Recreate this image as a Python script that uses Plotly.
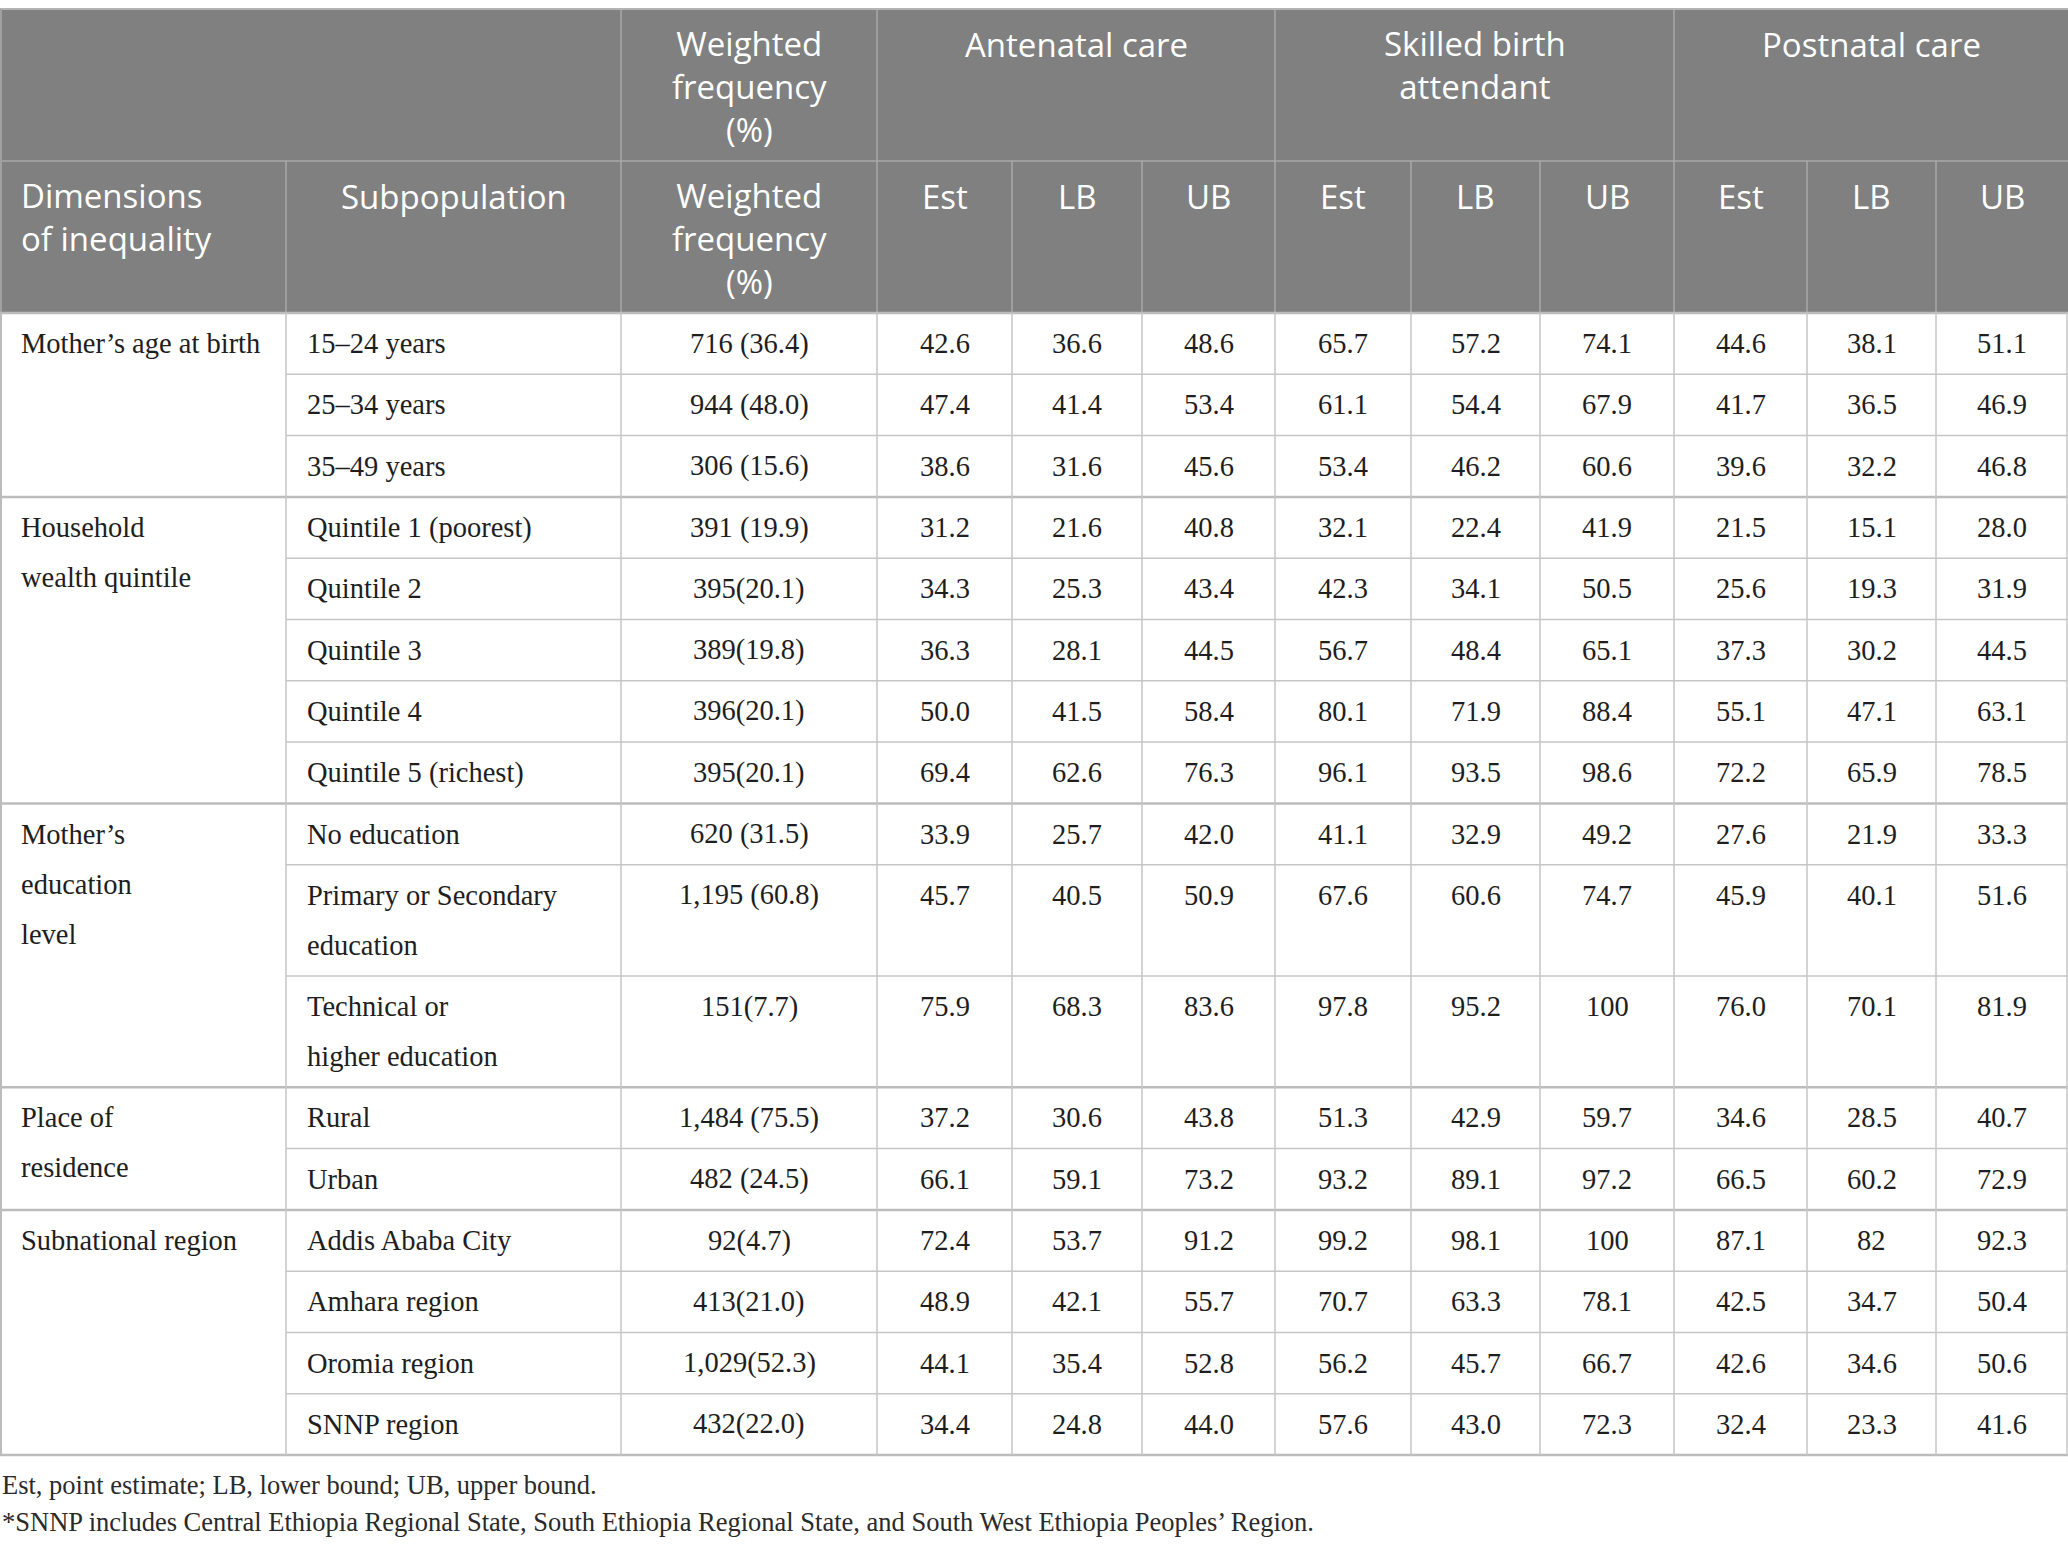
"""
Coverage of maternal health services by dimension of inequality (table)
"""
import plotly.graph_objects as go

# ---- data -------------------------------------------------------------
dimension_labels = [
    ["Mother’s age at birth"],
    ["Household", "wealth quintile"],
    ["Mother’s", "education", "level"],
    ["Place of", "residence"],
    ["Subnational region"],
]
group_sizes = [3, 5, 3, 2, 4]

subpopulations = [
    ["15–24 years"], ["25–34 years"], ["35–49 years"],
    ["Quintile 1 (poorest)"], ["Quintile 2"], ["Quintile 3"], ["Quintile 4"], ["Quintile 5 (richest)"],
    ["No education"], ["Primary or Secondary", "education"], ["Technical or", "higher education"],
    ["Rural"], ["Urban"],
    ["Addis Ababa City"], ["Amhara region"], ["Oromia region"], ["SNNP region"],
]
weighted_freq = [
    "716 (36.4)", "944 (48.0)", "306 (15.6)",
    "391 (19.9)", "395(20.1)", "389(19.8)", "396(20.1)", "395(20.1)",
    "620 (31.5)", "1,195 (60.8)", "151(7.7)",
    "1,484 (75.5)", "482 (24.5)",
    "92(4.7)", "413(21.0)", "1,029(52.3)", "432(22.0)",
]
anc_est = ["42.6", "47.4", "38.6", "31.2", "34.3", "36.3", "50.0", "69.4", "33.9", "45.7", "75.9",
           "37.2", "66.1", "72.4", "48.9", "44.1", "34.4"]
anc_lb = ["36.6", "41.4", "31.6", "21.6", "25.3", "28.1", "41.5", "62.6", "25.7", "40.5", "68.3",
          "30.6", "59.1", "53.7", "42.1", "35.4", "24.8"]
anc_ub = ["48.6", "53.4", "45.6", "40.8", "43.4", "44.5", "58.4", "76.3", "42.0", "50.9", "83.6",
          "43.8", "73.2", "91.2", "55.7", "52.8", "44.0"]
sba_est = ["65.7", "61.1", "53.4", "32.1", "42.3", "56.7", "80.1", "96.1", "41.1", "67.6", "97.8",
           "51.3", "93.2", "99.2", "70.7", "56.2", "57.6"]
sba_lb = ["57.2", "54.4", "46.2", "22.4", "34.1", "48.4", "71.9", "93.5", "32.9", "60.6", "95.2",
          "42.9", "89.1", "98.1", "63.3", "45.7", "43.0"]
sba_ub = ["74.1", "67.9", "60.6", "41.9", "50.5", "65.1", "88.4", "98.6", "49.2", "74.7", "100",
          "59.7", "97.2", "100", "78.1", "66.7", "72.3"]
pnc_est = ["44.6", "41.7", "39.6", "21.5", "25.6", "37.3", "55.1", "72.2", "27.6", "45.9", "76.0",
           "34.6", "66.5", "87.1", "42.5", "42.6", "32.4"]
pnc_lb = ["38.1", "36.5", "32.2", "15.1", "19.3", "30.2", "47.1", "65.9", "21.9", "40.1", "70.1",
          "28.5", "60.2", "82", "34.7", "34.6", "23.3"]
pnc_ub = ["51.1", "46.9", "46.8", "28.0", "31.9", "44.5", "63.1", "78.5", "33.3", "51.6", "81.9",
          "40.7", "72.9", "92.3", "50.4", "50.6", "41.6"]

top_headers = [["Weighted", "frequency", "(%)"], ["Antenatal care"],
               ["Skilled birth", "attendant"], ["Postnatal care"]]
sub_headers = [["Dimensions", "of inequality"], ["Subpopulation"],
               ["Weighted", "frequency", "(%)"]] + [["Est"], ["LB"], ["UB"]] * 3
footnotes = [
    "Est, point estimate; LB, lower bound; UB, upper bound.",
    "*SNNP includes Central Ethiopia Regional State, South Ethiopia Regional State, "
    "and South West Ethiopia Peoples’ Region.",
]

# ---- layout constants (pixels) ------------------------------------------
W, H = 2068, 1551
col_edges = [0, 286, 621, 877, 1012, 1142, 1275, 1411, 1540, 1674, 1807, 1936, 2068]
top_spans = [(2, 3), (3, 6), (6, 9), (9, 12)]
table_top, head1_bot, head2_bot = 9, 161, 313
row_h, line_gap = 61.3, 50
pad = 19

HEAD_BG = "#808080"
HEAD_LINE = "#a9a9a9"
BODY_LINE = "#c6c6c6"
TEXT = "#1e1e1e"
SANS = "Open Sans"
SERIF = "Liberation Serif"
HEAD_SIZE = 33
BODY_SIZE = 28.5

fig = go.Figure()
shapes = []
annotations = []


def hline(x0, x1, y, color, width):
    shapes.append(dict(type="line", xref="x", yref="y", x0=x0, x1=x1, y0=y, y1=y,
                       line=dict(color=color, width=width), layer="above"))


def vline(x, y0, y1, color, width):
    shapes.append(dict(type="line", xref="x", yref="y", x0=x, x1=x, y0=y0, y1=y1,
                       line=dict(color=color, width=width), layer="above"))


def text(x, y, s, font, size, color, align="center"):
    annotations.append(dict(x=x, y=y, xref="x", yref="y", text=s, showarrow=False,
                            xanchor=align, yanchor="middle", align=align,
                            font=dict(family=font, size=size, color=color)))


def head_text(x, first_y, lines, align="center"):
    # block of header lines, plotly spaces them at 1.3 em
    pitch = 1.3 * HEAD_SIZE
    cy = first_y + pitch * (len(lines) - 1) / 2
    text(x, cy, "<br>".join(lines), SANS, HEAD_SIZE, "white", align)


# header background
shapes.append(dict(type="rect", xref="x", yref="y", x0=0, x1=W, y0=table_top, y1=head2_bot,
                   fillcolor=HEAD_BG, line=dict(width=0), layer="below"))

# header row 1
for (c0, c1), lines in zip(top_spans, top_headers):
    cx = (col_edges[c0] + col_edges[c1]) / 2
    head_text(cx, table_top + 35, lines)
    vline(col_edges[c0], table_top, head1_bot, HEAD_LINE, 1.5)

# header row 2
for i, lines in enumerate(sub_headers):
    x0, x1 = col_edges[i], col_edges[i + 1]
    if i == 0:
        head_text(x0 + pad, head1_bot + 35, lines, "left")
    else:
        head_text((x0 + x1) / 2, head1_bot + 35, lines)
        vline(x0, head1_bot, head2_bot, HEAD_LINE, 1.5)

hline(0, W, table_top, "#b4b4b4", 2)
hline(0, W, head1_bot, HEAD_LINE, 1.5)
vline(1, table_top, head2_bot, "#a0a0a0", 2)

# body rows
value_cols = [weighted_freq, anc_est, anc_lb, anc_ub, sba_est, sba_lb, sba_ub,
              pnc_est, pnc_lb, pnc_ub]
row_tops = []
y = head2_bot
for lines in subpopulations:
    row_tops.append(y)
    y += row_h + line_gap * (len(lines) - 1)
body_bot = y

r = 0
group_starts = []
for size in group_sizes:
    group_starts.append(r)
    r += size

for r, lines in enumerate(subpopulations):
    top = row_tops[r]
    h = row_h + line_gap * (len(lines) - 1)
    first = top + h / 2 - line_gap * (len(lines) - 1) / 2
    for k, s in enumerate(lines):
        text(col_edges[1] + pad, first + k * line_gap, s, SERIF, BODY_SIZE, TEXT, "left")
    for j, col in enumerate(value_cols):
        cx = (col_edges[j + 2] + col_edges[j + 3]) / 2
        text(cx, first, col[r], SERIF, BODY_SIZE, TEXT)
    if r in group_starts:
        g = group_starts.index(r)
        for k, s in enumerate(dimension_labels[g]):
            text(col_edges[0] + pad, top + row_h / 2 + k * line_gap, s, SERIF, BODY_SIZE, TEXT, "left")
        hline(0, W, top, "#bcbcbc", 2.5)
    elif r > 0:
        hline(col_edges[1], W, top, BODY_LINE, 1.5)

hline(0, W, body_bot, "#bcbcbc", 2.5)
for x in col_edges[1:-1]:
    vline(x, head2_bot, body_bot, BODY_LINE, 1.5)
vline(1, head2_bot, body_bot, "#bcbcbc", 2)
vline(W - 1, head2_bot, body_bot, BODY_LINE, 1.5)

# footnotes
for k, s in enumerate(footnotes):
    text(0, body_bot + 30 + k * 37, s, SERIF, 26.5, "#2a2a2a", "left")

fig.update_layout(
    width=W, height=H,
    margin=dict(l=0, r=0, t=0, b=0),
    paper_bgcolor="white", plot_bgcolor="white",
    xaxis=dict(range=[0, W], visible=False, fixedrange=True),
    yaxis=dict(range=[H, 0], visible=False, fixedrange=True),
    shapes=shapes, annotations=annotations,
    showlegend=False,
)

# drop the browser's default page margin so the table starts at the corner
fig.write_html("out.html", config={"displayModeBar": False},
               post_script="document.body.style.margin='0';")
